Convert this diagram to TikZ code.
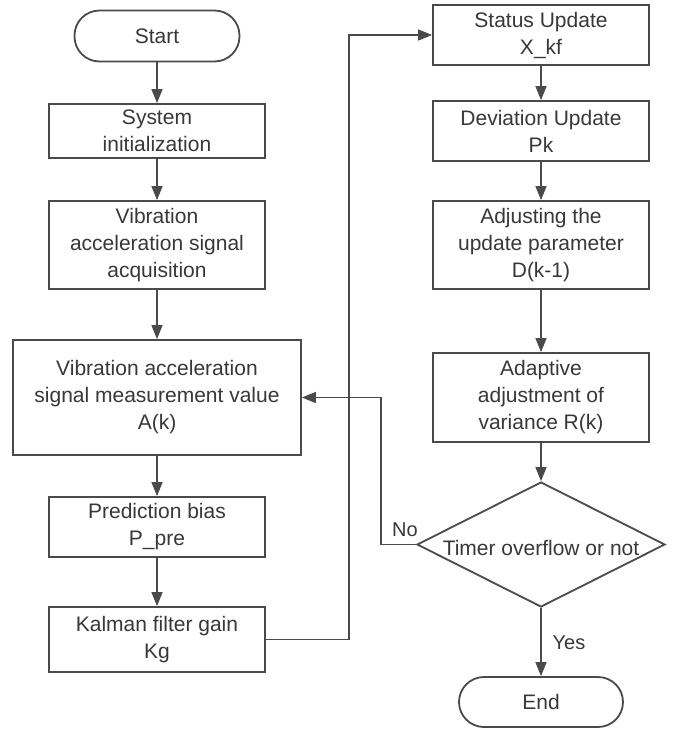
\documentclass[tikz,border=0pt]{standalone}
\usepackage{fontspec}
\setmainfont{Liberation Sans}
\usetikzlibrary{shapes.geometric,arrows.meta}
\definecolor{edge}{HTML}{4A4A4A}
\definecolor{ink}{HTML}{383838}
\tikzset{
  x=1pt, y=1pt,
  base/.style={draw=edge, line width=1.8pt, text=ink, align=center, inner sep=0pt,
    font=\fontsize{21}{27}\selectfont},
  proc/.style={base, rectangle, minimum width=216pt},
  term/.style={base, rectangle, rounded corners=25pt, minimum width=165pt, minimum height=51pt},
  decide/.style={base, diamond, aspect=2, minimum width=248pt, minimum height=125pt},
  arr/.style={draw=edge, line width=1.5pt, -{Triangle[length=14pt,width=11pt]}},
  lbl/.style={text=ink, font=\fontsize{20}{24}\selectfont, inner sep=0pt}
}
\begin{document}
\begin{tikzpicture}
\useasboundingbox[fill=white] (0,0) rectangle (673,-729);

% left column
\node[term] (start) at (157,-36) {Start};
\node[proc, minimum height=54pt] (init) at (157,-131) {System\\initialization};
\node[proc, minimum height=88pt] (acq) at (157,-245) {Vibration\\acceleration signal\\acquisition};
\node[proc, minimum width=288pt, minimum height=115pt] (meas) at (157,-397.5)
  {Vibration acceleration\\signal measurement value\\A(k)};
\node[proc, minimum height=60pt] (pred) at (157,-527) {Prediction bias\\P\_pre};
\node[proc, minimum height=65pt] (kal) at (157,-639.5) {Kalman filter gain\\Kg};

% right column
\node[proc, minimum height=60pt] (stat) at (541,-35) {Status Update\\X\_kf};
\node[proc, minimum height=60pt] (dev) at (541,-131) {Deviation Update\\Pk};
\node[proc, minimum height=88pt] (adj) at (541,-245) {Adjusting the\\update parameter\\D(k-1)};
\node[proc, minimum height=89pt] (adapt) at (541,-397.5) {Adaptive\\adjustment of\\variance R(k)};
\node[decide] (dia) at (541,-544.5) {};
\node[text=ink, font=\fontsize{21}{27}\selectfont, inner sep=0pt] (diatext) at (541,-548) {Timer overflow or not};
\node[term, minimum width=164pt, minimum height=50pt] (end) at (541,-702) {End};

% routing columns
\coordinate (kx) at (349,0);
\coordinate (nx) at (381,0);

% connectors
\draw[arr] (start) -- (init);
\draw[arr] (init) -- (acq);
\draw[arr] (acq) -- (meas);
\draw[arr] (meas) -- (pred);
\draw[arr] (pred) -- (kal);
\draw[arr] (kal.east) -- (kal.east -| kx) |- (stat.west);
\draw[arr] (stat) -- (dev);
\draw[arr] (dev) -- (adj);
\draw[arr] (adj) -- (adapt);
\draw[arr] (adapt) -- (dia);
\draw[arr] (dia.south) -- (end);
\draw[arr] (dia.west) -- (dia.west -| nx) |- (meas.east);

% branch labels
\node[lbl] (no) at (405,-530) {No};
\node[lbl] (yes) at (569,-643) {Yes};
\end{tikzpicture}
\end{document}
